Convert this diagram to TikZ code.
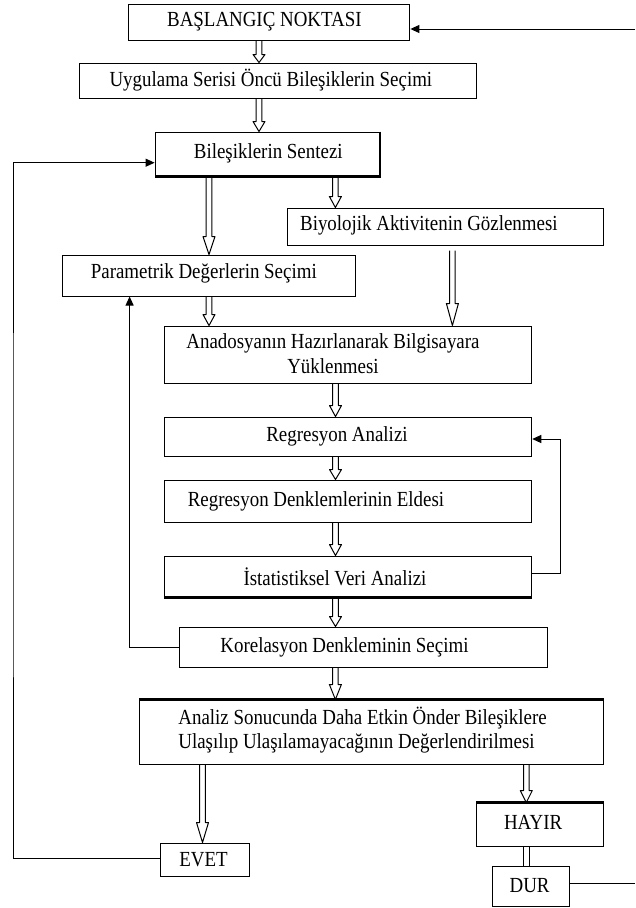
\documentclass[tikz,border=0pt]{standalone}
\usepackage{fontspec}
\setmainfont{Liberation Serif}[FakeStretch=0.88]
\usetikzlibrary{calc,arrows.meta}
\tikzset{
  box/.style={draw, line width=1pt, rectangle, inner sep=0pt},
  txt/.style={inner sep=0pt, align=center},
  hollowline/.style={draw, line width=1pt, line join=round},
  arr/.style={draw, line width=1pt, -{Triangle[length=9pt,width=8pt]}},
  plain/.style={draw, line width=1pt},
  thick edge/.style={draw, line width=2.2pt},
}
\newcommand\hollowarrow[3][12]{%
  \draw[hollowline] let \p1=#2, \p2=#3 in
    ({\x1-2.8pt},\y1) -- ({\x1-2.8pt},{\y2+#1pt}) -- ({\x1-6pt},{\y2+#1pt}) --
    (\x1,\y2) -- ({\x1+6pt},{\y2+#1pt}) -- ({\x1+2.8pt},{\y2+#1pt}) -- ({\x1+2.8pt},\y1);
}
\newcommand\doubleline[2]{%
  \draw[hollowline] let \p1=#1, \p2=#2 in
    ({\x1-2.8pt},\y1) -- ({\x1-2.8pt},\y2) ({\x1+2.8pt},\y1) -- ({\x1+2.8pt},\y2);
}
\begin{document}
\begin{tikzpicture}[x=1pt,y=-1pt,font=\fontsize{21.5}{24.5}\selectfont]
\useasboundingbox (0,0) rectangle (635,908);

% boxes
\node[box, minimum width=281pt, minimum height=36pt] (start) at (269.4,22) {};
\node[txt] (startT) at ([xshift=-5pt]start.center) {BAŞLANGIÇ NOKTASI};
\node[box, minimum width=397pt, minimum height=35pt] (uyg) at (277.9,80.5) {};
\node[txt] (uygT) at ([xshift=-7pt]uyg.center) {Uygulama Serisi Öncü Bileşiklerin Seçimi};
\node[box, minimum width=224.4pt, minimum height=44pt] (sent) at (267.3,154) {};
\node[txt] (sentT) at ([xshift=1pt,yshift=1pt]sent.center) {Bileşiklerin Sentezi};
\node[box, minimum width=316.3pt, minimum height=37pt] (biyo) at (445.3,226.5) {};
\node[txt] (biyoT) at ([xshift=-16.4pt,yshift=1pt]biyo.center) {Biyolojik Aktivitenin Gözlenmesi};
\node[box, minimum width=293.6pt, minimum height=41pt] (param) at (208.8,275.5) {};
\node[txt] (paramT) at ([xshift=-5pt,yshift=2pt]param.center) {Parametrik Değerlerin Seçimi};
\node[box, minimum width=367.5pt, minimum height=57pt] (anad) at (348,354.5) {};
\node[txt] (anadT) at ([xshift=-15pt,yshift=1pt]anad.center) {Anadosyanın Hazırlanarak Bilgisayara\\Yüklenmesi};
\node[box, minimum width=367.5pt, minimum height=39pt] (reg) at (348,436.5) {};
\node[txt] (regT) at ([xshift=-11pt]reg.center) {Regresyon Analizi};
\node[box, minimum width=367.5pt, minimum height=42pt] (denk) at (348,501) {};
\node[txt] (denkT) at ([xshift=-32pt]denk.center) {Regresyon Denklemlerinin Eldesi};
\node[box, minimum width=367.5pt, minimum height=41pt] (ist) at (348,576.5) {};
\node[txt] (istT) at ([xshift=-13pt]ist.center) {İstatistiksel Veri Analizi};
\node[box, minimum width=368.2pt, minimum height=40pt] (kor) at (363.5,647) {};
\node[txt] (korT) at ([xshift=-19pt]kor.center) {Korelasyon Denkleminin Seçimi};
\node[box, minimum width=463.8pt, minimum height=64pt] (anal) at (371.6,732) {};
\node[txt, align=left, anchor=west] (analT) at (178.2,730) {Analiz Sonucunda Daha Etkin Önder Bileşiklere\\Ulaşılıp Ulaşılamayacağının Değerlendirilmesi};
\node[box, minimum width=89pt, minimum height=33pt] (evet) at (204.5,859.5) {};
\node[txt] (evetT) at ([xshift=-1pt]evet.center) {EVET};
\node[box, minimum width=126.8pt, minimum height=43pt] (hayir) at (540.1,824.5) {};
\node[txt] (hayirT) at ([xshift=-7pt,yshift=2pt]hayir.center) {HAYIR};
\node[box, minimum width=77pt, minimum height=40pt] (dur) at (530.6,886) {};
\node[txt] (durT) at ([xshift=-1pt]dur.center) {DUR};

% thicker edges
\draw[thick edge] (anal.north west) -- (anal.north east);
\draw[thick edge] (hayir.north west) -- (hayir.north east);
\draw[thick edge] (ist.south west) -- (ist.south east);
\draw[thick edge] (sent.north east) -- (sent.south east) -- (sent.south west);

% column coordinates
\coordinate (c259) at (259,0);
\coordinate (c209) at (209,0);
\coordinate (c335) at (335.4,0);
\coordinate (c452) at (452.4,0);
\coordinate (c336) at (335.5,0);
\coordinate (c202) at (202.5,0);
\coordinate (c526) at (526.3,0);
\coordinate (c130) at (129.6,0);
\coordinate (c13) at (13,500);
\coordinate (edgeTop) at (635,29);
\coordinate (edgeBot) at (635,883);

% hollow arrows
\hollowarrow[8]{(start.south -| c259)}{(uyg.north -| c259)}
\hollowarrow[10]{(uyg.south -| c259)}{(sent.north -| c259)}
\hollowarrow[18]{(sent.south -| c209)}{(param.north -| c209)}
\hollowarrow[11]{(sent.south -| c335)}{(biyo.north -| c335)}
\hollowarrow[11]{(param.south -| c209)}{(anad.north -| c209)}
\hollowarrow[22]{($(biyo.south -| c452)+(0,5)$)}{(anad.north -| c452)}
\hollowarrow[11]{(anad.south -| c336)}{(reg.north -| c336)}
\hollowarrow[10]{(reg.south -| c336)}{(denk.north -| c336)}
\hollowarrow[11]{(denk.south -| c336)}{(ist.north -| c336)}
\hollowarrow[10]{(ist.south -| c336)}{(kor.north -| c336)}
\hollowarrow[15]{(kor.south -| c335)}{(anal.north -| c335)}
\hollowarrow[20]{(anal.south -| c202)}{(evet.north -| c202)}
\hollowarrow[12]{(anal.south -| c526)}{(hayir.north -| c526)}
\doubleline{(hayir.south -| c526)}{(dur.north -| c526)}

% feedback connectors
\draw[arr] (edgeTop) -- (edgeTop -| start.east);
\draw[plain] (dur.east |- edgeBot) -- (edgeBot);
\draw[arr] ([yshift=3.5pt]ist.east) -- ++(28pt,0) |- ([yshift=-2.5pt]reg.east);
\draw[arr] (kor.west) -| (param.south -| c130);
\draw[arr] ([yshift=1.5pt]evet.west) -| (c13) |- ([yshift=-8.7pt]sent.west);
\end{tikzpicture}
\end{document}
